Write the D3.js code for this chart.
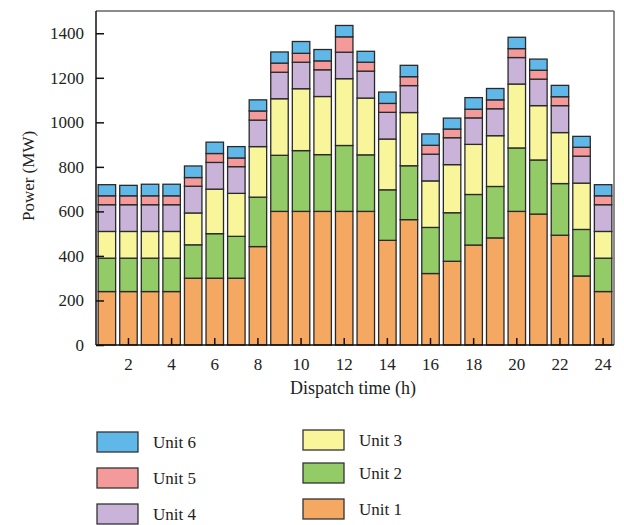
<!DOCTYPE html>
<html>
<head>
<meta charset="utf-8">
<script src="https://cdn.jsdelivr.net/npm/d3@7"></script>
<style>
  body { margin: 0; background: #fff; }
  text { font-family: "Liberation Serif", "DejaVu Serif", serif; fill: #222; }
</style>
</head>
<body>
<svg id="svg" width="624" height="525"></svg>
<script>
const hours = d3.range(1, 25);
const units = ["Unit 1", "Unit 2", "Unit 3", "Unit 4", "Unit 5", "Unit 6"];
const colors = ["#f5a862", "#93cb66", "#f9f59b", "#c9b3d8", "#f59a9b", "#5fb8e8"];

// MW per unit and hour
const unit1 = [240, 240, 240, 240, 300, 300, 300, 442, 600, 600, 600, 600, 600, 470, 563, 321, 376, 449, 481, 600, 588, 493, 310, 240];
const unit2 = [150, 150, 150, 150, 150, 200, 188, 222, 252, 273, 255, 296, 254, 227, 242, 207, 218, 227, 231, 285, 243, 232, 209, 150];
const unit3 = [120, 120, 120, 120, 143, 200, 193, 227, 254, 278, 261, 300, 255, 228, 239, 209, 216, 225, 228, 287, 244, 229, 208, 120];
const unit4 = [120, 120, 120, 120, 120, 120, 120, 119, 119, 119, 120, 119, 121, 120, 121, 120, 121, 119, 121, 119, 119, 121, 121, 120];
const unit5 = [40, 40, 40, 40, 39, 40, 39, 41, 41, 40, 40, 69, 40, 40, 40, 40, 39, 39, 40, 40, 40, 40, 40, 40];
const unit6 = [50, 47, 52, 52, 52, 51, 51, 50, 50, 53, 51, 51, 49, 51, 51, 51, 49, 52, 51, 51, 50, 51, 49, 50];

const yTicks = [0, 200, 400, 600, 800, 1000, 1200, 1400];
const xTicks = [2, 4, 6, 8, 10, 12, 14, 16, 18, 20, 22, 24];

const series = [unit1, unit2, unit3, unit4, unit5, unit6];
const rows = hours.map((h, i) => {
  const r = { hour: h };
  units.forEach((u, k) => { r[u] = series[k][i]; });
  return r;
});

const mLeft = 96, mRight = 614, mTop = 11, mBottom = 345;
const svg = d3.select("#svg");

const x = d3.scaleBand().domain(hours).range([mLeft, mRight]).paddingInner(0.19).paddingOuter(0.1);
const y = d3.scaleLinear().domain([0, 1500]).range([mBottom, mTop]);

const stacked = d3.stack().keys(units)(rows);

// bars
svg.append("g")
  .selectAll("g")
  .data(stacked)
  .join("g")
  .attr("fill", (d, i) => colors[i])
  .selectAll("rect")
  .data(d => d)
  .join("rect")
  .attr("x", d => x(d.data.hour))
  .attr("y", d => y(d[1]))
  .attr("width", x.bandwidth())
  .attr("height", d => y(d[0]) - y(d[1]))
  .attr("stroke", "#2a2a2a")
  .attr("stroke-width", 1.3);

// frame
svg.append("line").attr("x1", mLeft).attr("x2", mRight).attr("y1", mTop).attr("y2", mTop)
  .attr("stroke", "#666").attr("stroke-width", 1.5);
svg.append("line").attr("x1", mRight).attr("x2", mRight).attr("y1", mTop).attr("y2", mBottom)
  .attr("stroke", "#666").attr("stroke-width", 1.5);

// y axis, ticks pointing in
const yAxis = d3.axisLeft(y).tickValues(yTicks).tickFormat(d3.format("d"))
  .tickSizeInner(-8).tickSizeOuter(0).tickPadding(12);
const gy = svg.append("g").attr("transform", `translate(${mLeft},0)`).call(yAxis);
gy.select("path").attr("d", `M0,${mBottom}V${mTop}`);
gy.selectAll("text").style("font-size", "17px").style("font-family", "Liberation Serif");
gy.selectAll("line, path").attr("stroke", "#111").attr("stroke-width", 1.5);

// x axis, ticks on even hours pointing up
const xAxis = d3.axisBottom(x).tickValues(xTicks).tickSizeInner(-7).tickSizeOuter(0).tickPadding(13);
const gx = svg.append("g").attr("transform", `translate(0,${mBottom})`).call(xAxis);
gx.select("path").attr("d", `M${mLeft},0H${mRight}`);
gx.selectAll("text").style("font-size", "17px").style("font-family", "Liberation Serif");
gx.selectAll("line, path").attr("stroke", "#111").attr("stroke-width", 1.5);

// axis titles
svg.append("text")
  .attr("transform", "translate(34,176) rotate(-90)")
  .attr("text-anchor", "middle")
  .style("font-size", "17px")
  .text("Power (MW)");

svg.append("text")
  .attr("x", 353).attr("y", 394)
  .attr("text-anchor", "middle")
  .style("font-size", "18px")
  .text("Dispatch time (h)");

// legend
const legendItems = [
  { k: 5, x: 97, y: 432 },
  { k: 4, x: 97, y: 468 },
  { k: 3, x: 97, y: 504 },
  { k: 2, x: 303, y: 430 },
  { k: 1, x: 303, y: 463 },
  { k: 0, x: 303, y: 499 }
];
const lg = svg.append("g")
  .selectAll("g")
  .data(legendItems)
  .join("g")
  .attr("transform", d => `translate(${d.x},${d.y})`);
lg.append("rect")
  .attr("width", 41).attr("height", 20)
  .attr("fill", d => colors[d.k])
  .attr("stroke", "#333").attr("stroke-width", 1.3);
lg.append("text")
  .attr("x", 56).attr("y", 15.5)
  .style("font-size", "17px")
  .text(d => units[d.k]);
</script>
</body>
</html>
